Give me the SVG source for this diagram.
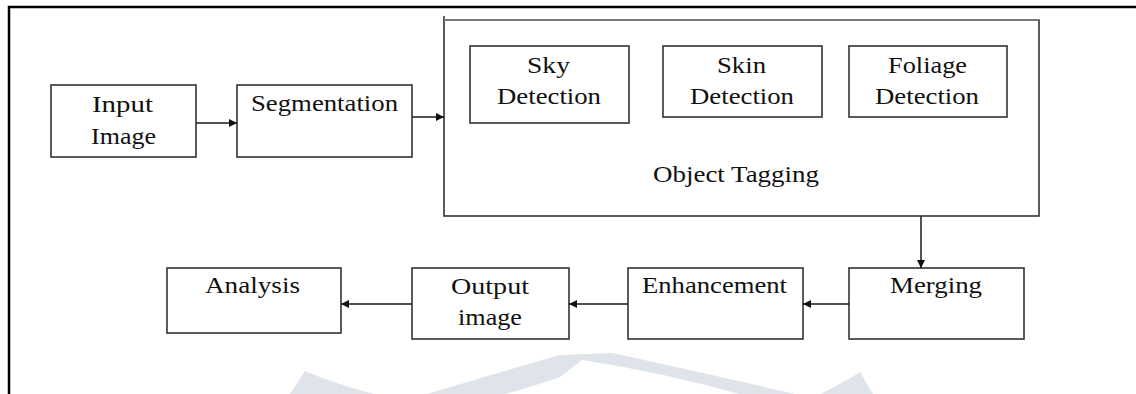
<svg xmlns="http://www.w3.org/2000/svg" width="1136" height="394" viewBox="0 0 1136 394">
  <style>
    .box { fill: none; stroke: #333333; stroke-width: 1.6; }
    .lbl { font-family: "Liberation Serif", "Times New Roman", serif; font-size: 23px; fill: #111111; text-anchor: middle; }
    .conn { stroke: #1a1a1a; stroke-width: 1.5; fill: none; marker-end: url(#arrow); }
    .wm { fill: #dfe4ea; stroke: none; }
  </style>
  <defs>
    <marker id="arrow" viewBox="0 0 10 10" refX="10" refY="5" markerWidth="9" markerHeight="8" markerUnits="userSpaceOnUse" orient="auto">
      <path d="M0,0 L10,5 L0,10 Z" fill="#111"/>
    </marker>
  </defs>
  <rect width="1136" height="394" fill="#ffffff"/>
  <g id="watermark">
    <path class="wm" d="M290,394 L305,371 Q335,384 374,394 Z"/>
    <path class="wm" d="M427,394 Q500,372 560,355 L612,353 Q700,372 795,394 L740,394 Q660,372 582,360 L560,377 Q535,386 505,394 Z"/>
    <path class="wm" d="M860,372 L873,394 L820,394 Q840,385 860,372 Z"/>
  </g>
  <path id="frame" d="M9,394 L9,7 L1136,7" fill="none" stroke="#000" stroke-width="2.5"/>
  <g id="object-tagging">
    <rect class="box" x="444" y="20" width="595" height="196"/>
    <line x1="444" y1="16" x2="444" y2="20" stroke="#333" stroke-width="1.5"/>
    <line x1="444" y1="20" x2="1039" y2="20" stroke="#777" stroke-width="2"/>
    <text class="lbl" x="736" y="182" textLength="166" lengthAdjust="spacingAndGlyphs">Object Tagging</text>
  </g>
  <g id="input-image">
    <rect class="box" x="51" y="85" width="145" height="72"/>
    <text class="lbl" x="122.5" y="112" textLength="61" lengthAdjust="spacingAndGlyphs">Input</text>
    <text class="lbl" x="123.5" y="144" textLength="65" lengthAdjust="spacingAndGlyphs">Image</text>
  </g>
  <g id="segmentation">
    <rect class="box" x="237" y="85" width="175" height="72"/>
    <text class="lbl" x="324.5" y="111" textLength="147" lengthAdjust="spacingAndGlyphs">Segmentation</text>
  </g>
  <g id="sky-detection">
    <rect class="box" x="470" y="46" width="159" height="77"/>
    <text class="lbl" x="548.5" y="73" textLength="43" lengthAdjust="spacingAndGlyphs">Sky</text>
    <text class="lbl" x="549" y="104" textLength="104" lengthAdjust="spacingAndGlyphs">Detection</text>
  </g>
  <g id="skin-detection">
    <rect class="box" x="663" y="46" width="159" height="71"/>
    <text class="lbl" x="741.5" y="73" textLength="49" lengthAdjust="spacingAndGlyphs">Skin</text>
    <text class="lbl" x="742" y="104" textLength="104" lengthAdjust="spacingAndGlyphs">Detection</text>
  </g>
  <g id="foliage-detection">
    <rect class="box" x="849" y="46" width="158" height="71"/>
    <text class="lbl" x="927.5" y="73" textLength="79" lengthAdjust="spacingAndGlyphs">Foliage</text>
    <text class="lbl" x="927" y="104" textLength="104" lengthAdjust="spacingAndGlyphs">Detection</text>
  </g>
  <g id="merging">
    <rect class="box" x="849" y="268" width="175" height="71"/>
    <text class="lbl" x="936" y="293" textLength="92" lengthAdjust="spacingAndGlyphs">Merging</text>
  </g>
  <g id="enhancement">
    <rect class="box" x="628" y="268" width="175" height="71"/>
    <text class="lbl" x="714.5" y="293" textLength="145" lengthAdjust="spacingAndGlyphs">Enhancement</text>
  </g>
  <g id="output-image">
    <rect class="box" x="412" y="268" width="157" height="71"/>
    <text class="lbl" x="490" y="294" textLength="78" lengthAdjust="spacingAndGlyphs">Output</text>
    <text class="lbl" x="490" y="325" textLength="64" lengthAdjust="spacingAndGlyphs">image</text>
  </g>
  <g id="analysis">
    <rect class="box" x="167" y="268" width="174" height="65"/>
    <text class="lbl" x="252.5" y="293" textLength="95" lengthAdjust="spacingAndGlyphs">Analysis</text>
  </g>
  <g id="connectors">
    <path class="conn" d="M196,123 L237,123"/>
    <path class="conn" d="M412,117 L444,117"/>
    <path class="conn" d="M921,216 L921,268"/>
    <path class="conn" d="M849,304 L803,304"/>
    <path class="conn" d="M628,304 L569,304"/>
    <path class="conn" d="M412,304 L341,304"/>
  </g>
</svg>
